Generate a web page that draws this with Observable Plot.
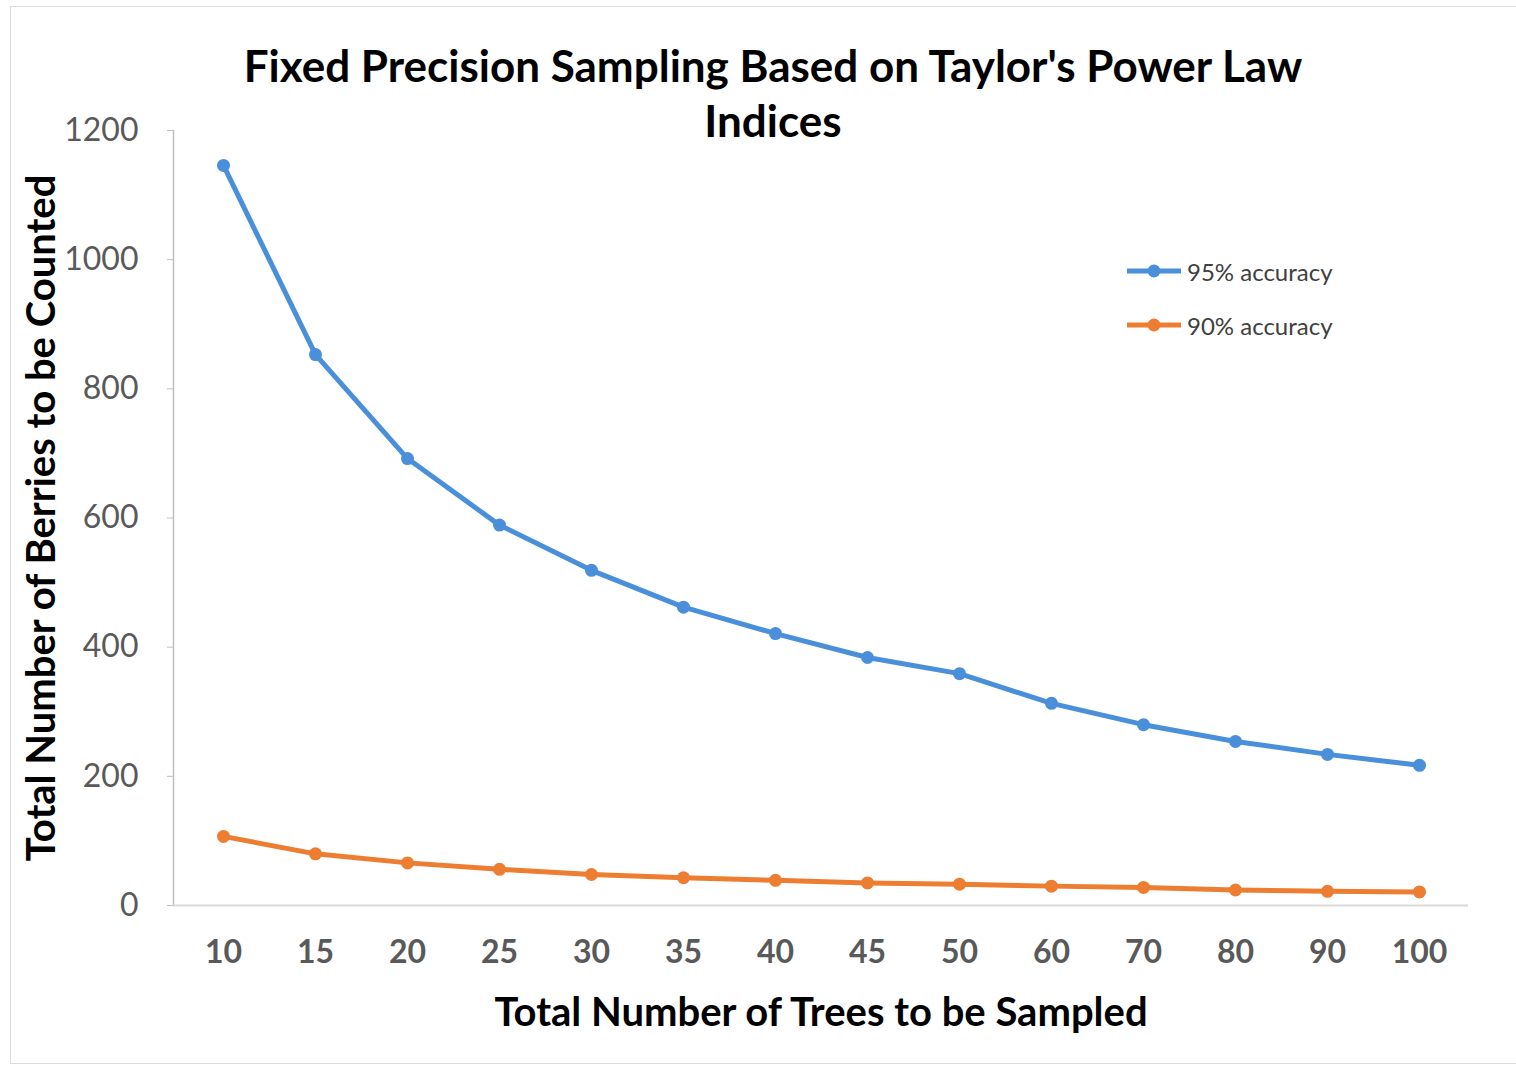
<!DOCTYPE html>
<html>
<head>
<meta charset="utf-8">
<script src="https://cdn.jsdelivr.net/npm/d3@7"></script>
<script src="https://cdn.jsdelivr.net/npm/@observablehq/plot@0.6"></script>
<style>
  body { margin: 0; background: #fff; font-family: Lato, "Open Sans", sans-serif; }
  #wrap { position: relative; width: 1516px; height: 1070px; overflow: hidden; }
  #border { position: absolute; left: 10px; top: 6px; width: 1510px; height: 1058px; border: 1.5px solid #dcdcdc; box-sizing: border-box; }
  #title { position: absolute; left: 123px; top: 38px; width: 1300px; text-align: center;
           font-weight: bold; font-size: 44px; line-height: 55px; color: #000; }
  #chart { position: absolute; left: 0; top: 100px; }
  #legend { position: absolute; left: 1127px; top: 256px; font-size: 24px; color: #404040; }
  .item { display: flex; align-items: center; height: 30px; margin-bottom: 24px; }
  .item svg { margin-right: 6px; }
</style>
</head>
<body>
<div id="wrap">
  <div id="border"></div>
  <div id="title">Fixed Precision Sampling Based on Taylor's Power Law<br>Indices</div>
  <div id="chart"></div>
  <div id="legend"></div>
</div>
<script>
// ---- data ----
const treeCounts = ["10", "15", "20", "25", "30", "35", "40", "45", "50", "60", "70", "80", "90", "100"];
const accuracy95 = [1146, 853, 692, 589, 519, 462, 421, 384, 359, 313, 280, 254, 234, 217];
const accuracy90 = [107, 80, 66, 56, 48, 43, 39, 35, 33, 30, 28, 24, 22, 21];
const seriesNames = ["95% accuracy", "90% accuracy"];
const seriesColors = ["#4a8fda", "#ed7d31"];
const yTicks = [0, 200, 400, 600, 800, 1000, 1200];
const xLabel = "Total Number of Trees to be Sampled";
const yLabel = "Total Number of Berries to be Counted";

const rows = [
  ...treeCounts.map((t, i) => ({trees: t, berries: accuracy95[i], series: seriesNames[0]})),
  ...treeCounts.map((t, i) => ({trees: t, berries: accuracy90[i], series: seriesNames[1]}))
];

const chart = Plot.plot({
  width: 1516,
  height: 970,
  marginTop: 30,
  marginBottom: 165,
  marginLeft: 173,
  marginRight: 48,
  style: { fontFamily: "Lato, 'Open Sans', sans-serif", background: "transparent" },
  x: { type: "point", domain: treeCounts, padding: 0.5, label: null },
  y: { domain: [0, 1200], label: null },
  color: { domain: seriesNames, range: seriesColors },
  marks: [
    Plot.frame({ anchor: "left", stroke: "#bfbfbf", strokeWidth: 1.5 }),
    Plot.ruleY([0], { stroke: "#d9d9d9", strokeWidth: 2 }),
    Plot.axisY({ ticks: yTicks, tickSize: 6, tickPadding: 29, fontSize: 32, stroke: "#bfbfbf", fill: "#595959", label: null, tickFormat: d => String(d) }),
    Plot.axisX({ tickSize: 0, tickPadding: 35, fontSize: 32, fontWeight: "bold", fill: "#595959", label: null }),
    Plot.line(rows, { x: "trees", y: "berries", z: "series", stroke: "series", strokeWidth: 5, curve: "linear" }),
    Plot.dot(rows, { x: "trees", y: "berries", fill: "series", r: 6.5 }),
    Plot.text([xLabel], { frameAnchor: "bottom", dy: 108, lineAnchor: "middle", textAnchor: "middle", fontSize: 40, fontWeight: "bold", fill: "#000" }),
    Plot.text([yLabel], { frameAnchor: "left", dx: -131, rotate: -90, lineAnchor: "middle", textAnchor: "middle", fontSize: 40, fontWeight: "bold", fill: "#000" })
  ]
});
document.getElementById("chart").appendChild(chart);

// legend
const legend = d3.select("#legend");
seriesNames.forEach((name, i) => {
  const item = legend.append("div").attr("class", "item");
  const s = item.append("svg").attr("width", 54).attr("height", 14);
  s.append("line").attr("x1", 0).attr("x2", 54).attr("y1", 7).attr("y2", 7)
    .attr("stroke", seriesColors[i]).attr("stroke-width", 5);
  s.append("circle").attr("cx", 27).attr("cy", 7).attr("r", 6.5).attr("fill", seriesColors[i]);
  item.append("span").text(name);
});
</script>
</body>
</html>
